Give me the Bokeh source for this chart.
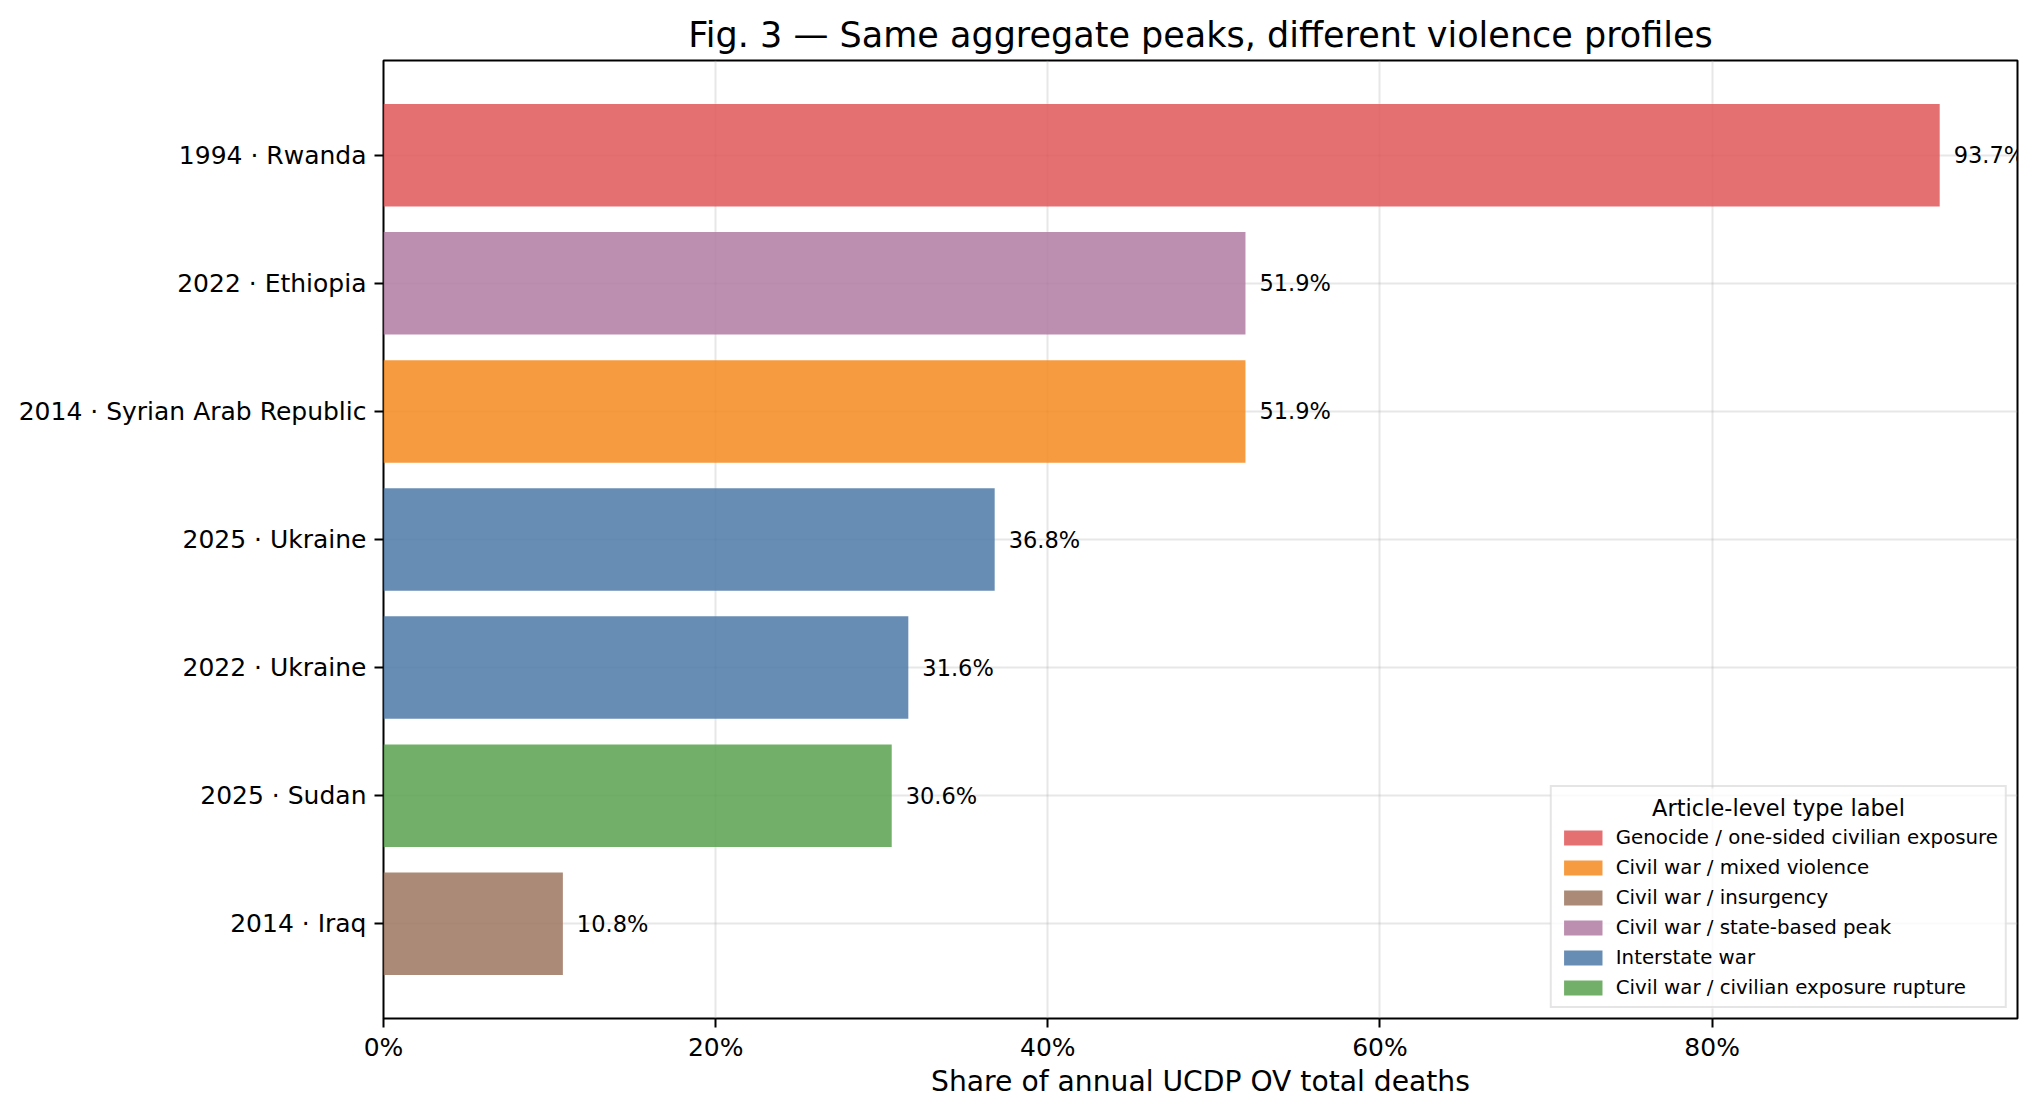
from bokeh.plotting import figure
from bokeh.models import (ColumnDataSource, Range1d, FixedTicker, PrintfTickFormatter,
                          Legend, LegendItem, LabelSet, Label, BoxAnnotation)
from bokeh.core.properties import value
from bokeh.embed import file_html
from bokeh.resources import INLINE

# ---- data (top row first) ----
labels = ["1994 · Rwanda", "2022 · Ethiopia", "2014 · Syrian Arab Republic",
          "2025 · Ukraine", "2022 · Ukraine", "2025 · Sudan", "2014 · Iraq"]
shares = [93.7, 51.9, 51.9, 36.8, 31.6, 30.6, 10.8]
types = ["Genocide / one-sided civilian exposure", "Civil war / state-based peak",
         "Civil war / mixed violence", "Interstate war", "Interstate war",
         "Civil war / civilian exposure rupture", "Civil war / insurgency"]
legend_order = ["Genocide / one-sided civilian exposure", "Civil war / mixed violence",
                "Civil war / insurgency", "Civil war / state-based peak",
                "Interstate war", "Civil war / civilian exposure rupture"]
type_colors = {
    "Genocide / one-sided civilian exposure": "#e15759",
    "Civil war / mixed violence": "#f4891f",
    "Civil war / insurgency": "#9c755f",
    "Civil war / state-based peak": "#b07aa1",
    "Interstate war": "#4e79a7",
    "Civil war / civilian exposure rupture": "#59a14f",
}
x_ticks = [0, 20, 40, 60, 80]
legend_title = "Article-level type label"

FONT = "DejaVu Sans"
n = len(labels)
ypos = [n - 1 - i for i in range(n)]

source = ColumnDataSource(dict(
    y=ypos, share=shares, label=labels, type=types,
    color=[type_colors[t] for t in types],
    text=[f"{v:.1f}%" for v in shares],
))

p = figure(width=2044, height=1116, output_backend="svg", toolbar_location=None,
           x_range=Range1d(0, max(shares) * 1.05),
           y_range=Range1d(-0.74, n - 1 + 0.74),
           min_border_left=383, min_border_right=27,
           min_border_top=60, min_border_bottom=98)
p.background_fill_color = "white"
p.border_fill_color = "white"
p.outline_line_color = "black"
p.outline_line_width = 2

bars = p.hbar(y="y", right="share", left=0, height=0.8, source=source,
              fill_color="color", fill_alpha=0.85, line_color=None)

value_labels = LabelSet(x="share", y="y", text="text", source=source, x_offset=14,
                        text_baseline="middle", text_align="left",
                        text_font=value(FONT), text_font_size=value("22.5px"),
                        text_color=value("black"), level="annotation")
p.add_layout(value_labels)

# title
p.title.text = "Fig. 3 — Same aggregate peaks, different violence profiles"
p.title.align = "center"
p.title.text_font = FONT
p.title.text_font_size = "35px"
p.title.text_font_style = "normal"
p.title.text_color = "black"
p.title.standoff = 12

# axes
p.xaxis.ticker = FixedTicker(ticks=x_ticks)
p.xaxis.formatter = PrintfTickFormatter(format="%d%%")
p.xaxis.axis_label = "Share of annual UCDP OV total deaths"
p.yaxis.ticker = FixedTicker(ticks=ypos)
p.yaxis.major_label_overrides = {yy: lab for yy, lab in zip(ypos, labels)}
for ax in (p.xaxis[0], p.yaxis[0]):
    ax.axis_line_color = None
    ax.major_tick_line_color = "black"
    ax.major_tick_line_width = 2
    ax.major_tick_out = 9
    ax.major_tick_in = 0
    ax.minor_tick_line_color = None
    ax.major_label_text_font = FONT
    ax.major_label_text_font_size = "25px"
    ax.major_label_text_color = "black"
    ax.major_label_standoff = 8
    ax.axis_label_text_font = FONT
    ax.axis_label_text_font_size = "28.2px"
    ax.axis_label_text_font_style = "normal"
    ax.axis_label_text_color = "black"
p.xaxis.major_label_standoff = 5
p.xaxis.axis_label_standoff = 0

# grid
p.xgrid.ticker = FixedTicker(ticks=x_ticks)
p.ygrid.ticker = FixedTicker(ticks=ypos)
for g in (p.xgrid[0], p.ygrid[0]):
    g.grid_line_color = "#b0b0b0"
    g.grid_line_alpha = 0.3
    g.grid_line_width = 2

# translucent legend backing (screen px, relative to the plot frame)
legend_bg = BoxAnnotation(left=1167, right=1623, bottom=10, top=230,
                          left_units="screen", right_units="screen",
                          bottom_units="screen", top_units="screen",
                          fill_color="white", fill_alpha=0.8, line_color=None,
                          level="annotation")
p.add_layout(legend_bg)

# legend (title drawn centred as a separate label)
items = [LegendItem(label=t, renderers=[bars], index=types.index(t)) for t in legend_order]
legend = Legend(items=items, location="bottom_right",
                title=" ",
                title_text_font=FONT, title_text_font_size="22.5px",
                title_text_font_style="normal", title_text_color="black",
                title_standoff=6,
                label_text_font=FONT, label_text_font_size="19.8px",
                label_text_color="black",
                glyph_width=48, glyph_height=19, label_height=20,
                label_standoff=9, spacing=7, padding=7, margin=10,
                border_line_color="#cccccc", border_line_width=2,
                background_fill_alpha=0.0,
                level="annotation")
p.add_layout(legend)

legend_title_label = Label(x=1395, y=211, x_units="screen", y_units="screen",
                           text=legend_title, text_align="center",
                           text_baseline="middle", text_font=FONT,
                           text_font_size="22.5px", text_color="black",
                           level="overlay")
p.add_layout(legend_title_label)

open("out.html", "w").write(file_html(p, INLINE))
